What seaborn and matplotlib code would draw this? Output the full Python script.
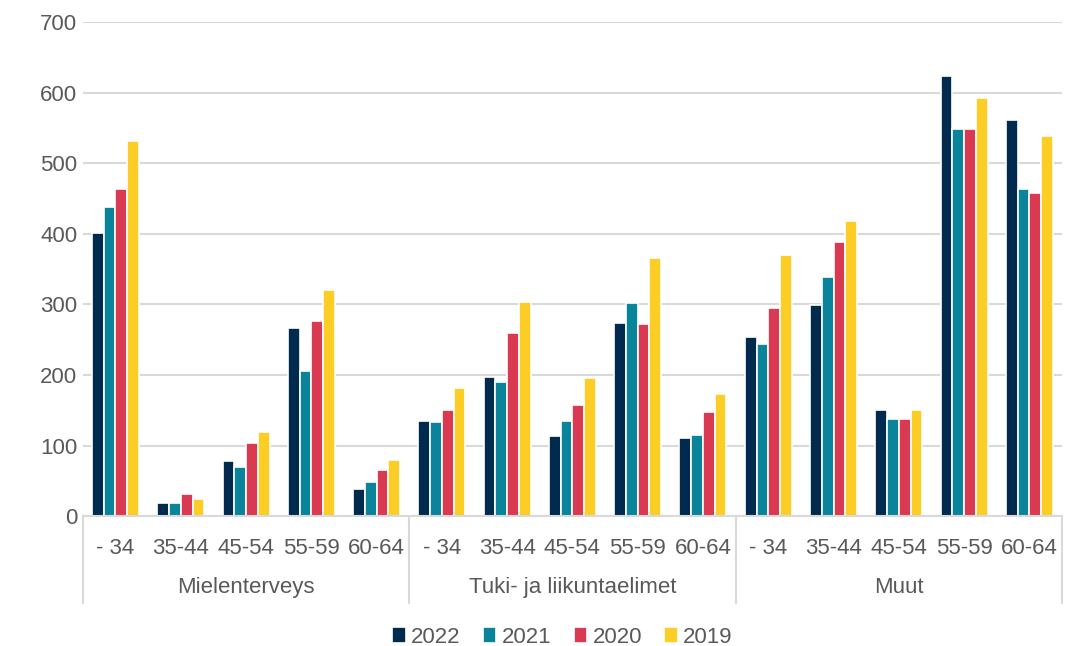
import numpy as np
import pandas as pd
import seaborn as sns
import matplotlib.pyplot as plt

sns.set_style("white")
plt.rcParams['font.family'] = ['Liberation Sans', 'DejaVu Sans']

groups = ["Mielenterveys", "Tuki- ja liikuntaelimet", "Muut"]
ages = ["- 34", "35-44", "45-54", "55-59", "60-64"]
years = ["2022", "2021", "2020", "2019"]

# values per group, in age order
v2022 = [401, 19, 78, 267, 39,   135, 197, 113, 273, 111,   254, 299, 151, 624, 561]
v2021 = [438, 19, 70, 205, 48,   133, 190, 135, 302, 115,   244, 339, 138, 549, 463]
v2020 = [463, 31, 103, 277, 66,  151, 260, 157, 272, 147,   295, 389, 137, 549, 458]
v2019 = [532, 24, 119, 320, 79,  182, 304, 195, 366, 173,   370, 418, 151, 592, 538]

colors = ["#012A4F", "#09849B", "#D93A52", "#FCCD25"]
txt = "#595959"

cats = [g + "|" + a for g in groups for a in ages]
rows = []
for yr, vals in zip(years, [v2022, v2021, v2020, v2019]):
    for c, v in zip(cats, vals):
        rows.append({"cat": c, "year": yr, "value": v})
df = pd.DataFrame(rows)

fig = plt.figure(figsize=(10.76, 6.46), dpi=100)
ax = fig.add_axes([0.077, 0.201, 0.910, 0.765])

sns.barplot(data=df, x="cat", y="value", hue="year", order=cats, hue_order=years,
            palette=colors, saturation=1, width=0.72, edgecolor="white",
            linewidth=1.2, ax=ax, legend=True)

ax.set_ylim(0, 700)
ax.set_xlim(-0.5, len(cats) - 0.5)
ax.set_yticks(range(0, 701, 100))
ax.yaxis.grid(True, color="#D9D9D9", linewidth=1.5)
ax.set_axisbelow(True)
for s in ["top", "right", "left"]:
    ax.spines[s].set_visible(False)
ax.spines["bottom"].set_color("#D9D9D9")
ax.spines["bottom"].set_linewidth(1.5)
ax.set_xlabel("")
ax.set_ylabel("")
ax.set_xticks(range(len(cats)))
ax.set_xticklabels(ages * len(groups))
ax.tick_params(axis="both", length=0, labelsize=16, colors=txt)
ax.tick_params(axis="x", pad=16)
ax.tick_params(axis="y", pad=4)

# group labels and separators
trans = ax.get_xaxis_transform()
for i in range(len(groups) + 1):
    x = i * len(ages) - 0.5
    ax.plot([x, x], [0, -0.175], transform=trans, color="#D9D9D9",
            linewidth=1.5, clip_on=False)
for i, g in enumerate(groups):
    ax.text(i * len(ages) + 2, -0.145, g, transform=trans, ha="center",
            va="center", fontsize=16, color=txt)

handles, labels = ax.get_legend_handles_labels()
ax.legend(handles, labels, loc="center", bbox_to_anchor=(0.49, -0.245), ncol=4,
          frameon=False, fontsize=16, handlelength=0.6, handleheight=0.7,
          handletextpad=0.25, columnspacing=1.0, labelcolor=txt)

fig.savefig("out.png", dpi=100)
